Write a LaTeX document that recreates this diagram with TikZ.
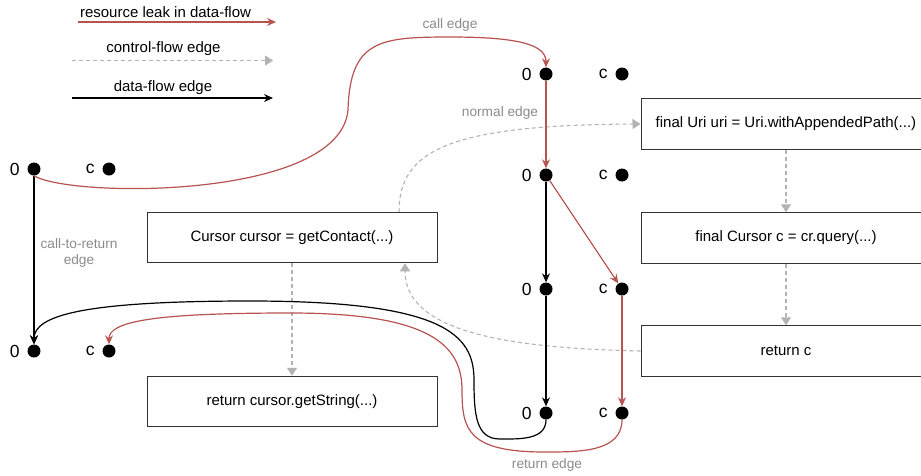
\documentclass[tikz,border=0pt]{standalone}
\usepackage{fontspec}
\setmainfont{Liberation Sans}
\usetikzlibrary{arrows.meta}
\definecolor{leakred}{HTML}{B85450}
\definecolor{cfgray}{HTML}{B3B3B3}
\definecolor{lblgray}{HTML}{8C8C8C}
\definecolor{boxline}{HTML}{333333}
\tikzset{
  dot/.style={circle,fill=black,inner sep=0pt,minimum size=13pt},
  dotlab/.style={font=\fontsize{17.5}{20}\selectfont,inner sep=0pt,label distance=7.5pt},
  stmt/.style={draw=boxline,line width=1pt,minimum width=290pt,minimum height=50.5pt,inner sep=0pt,font=\fontsize{15}{18}\selectfont},
  glabel/.style={text=lblgray,font=\fontsize{13.7}{16}\selectfont,inner sep=0pt,align=center},
  legtext/.style={font=\fontsize{15}{18}\selectfont,inner sep=0pt},
  leak/.style={draw=leakred,line width=1.2pt,-{Stealth[length=9pt,width=8pt,inset=3pt]}},
  dflow/.style={draw=black,line width=1.2pt,-{Stealth[length=9pt,width=8pt,inset=3pt]}},
  cflow/.style={draw=cfgray,line width=1.1pt,dash pattern=on 4pt off 3pt,-{Triangle[length=8pt,width=10pt]}}
}
\begin{document}
\begin{tikzpicture}[x=1pt,y=-1pt]
\clip (0,0) rectangle (921,475);
\fill[white] (0,0) rectangle (921,475);
% legend
\coordinate (lr1) at (78,22); \coordinate (lr2) at (276,22);
\coordinate (lg1) at (72,60.5); \coordinate (lg2) at (273,60.5);
\coordinate (lb1) at (72,98); \coordinate (lb2) at (273,98);
\node[legtext] (tleak) at (165.5,12) {resource leak in data-flow};
\node[legtext] (tcf) at (163.5,49) {control-flow edge};
\node[legtext] (tdf) at (163,88) {data-flow edge};
\draw[leak] (lr1) -- (lr2);
\draw[cflow] (lg1) -- (lg2);
\draw[dflow] (lb1) -- (lb2);
% dots
\node[dot,label={[dotlab]left:0}] (L0) at (34,169) {};
\node[dot,label={[dotlab]left:c}] (Lc) at (109,169) {};
\node[dot,label={[dotlab]left:0}] (R0) at (34,351) {};
\node[dot,label={[dotlab]left:c}] (Rc) at (109,351) {};
\node[dot,label={[dotlab]left:0}] (M00) at (546,74) {};
\node[dot,label={[dotlab]left:c}] (M0c) at (622,74) {};
\node[dot,label={[dotlab]left:0}] (M10) at (546,175) {};
\node[dot,label={[dotlab]left:c}] (M1c) at (622,175) {};
\node[dot,label={[dotlab]left:0}] (M20) at (546,289) {};
\node[dot,label={[dotlab]left:c}] (M2c) at (622,289) {};
\node[dot,label={[dotlab]left:0}] (M30) at (546,413) {};
\node[dot,label={[dotlab]left:c}] (M3c) at (622,413) {};
% statements
\node[stmt] (cursor) at (292,237.5) {Cursor cursor = getContact(...)};
\node[stmt] (getstr) at (292,401.5) {return cursor.getString(...)};
\node[stmt] (uri) at (786,124) {final Uri uri = Uri.withAppendedPath(...)};
\node[stmt] (query) at (786,238) {final Cursor c = cr.query(...)};
\node[stmt] (retc) at (786,351) {return c};
% control flow
\draw[cflow] (cursor.south) -- (getstr.north);
\draw[cflow] (uri.south) -- (query.north);
\draw[cflow] (query.south) -- (retc.north);
\draw[cflow] ([xshift=107pt]cursor.north) .. controls (399,150) and (450,125) .. (uri.west);
\draw[cflow] (retc.west) .. controls (500,348) and (405,330) .. ([xshift=113pt]cursor.south);
% data flow
\draw[dflow] (L0.south) -- (R0.north);
\draw[dflow] (M10) -- (M20);
\draw[dflow] (M20) -- (M30);
\draw[dflow] (M30.south) .. controls (546,440) and (520,439) .. (500,439)
  .. controls (476,439) and (474,415) .. (474,380)
  .. controls (474,335) and (445,301) .. (250,301)
  .. controls (80,301) and (34,316) .. (R0.north);
% leaks
\draw[leak] (L0.south) .. controls (70,198) and (340,200) .. (348,110)
  .. controls (350,40) and (380,37) .. (450,37)
  .. controls (520,37) and (546,45) .. (M00.north);
\draw[leak] (M00) -- (M10);
\draw[leak] (M10) -- (M2c);
\draw[leak] (M2c) -- (M3c);
\draw[leak] (M3c.south) .. controls (622,452) and (580,452) .. (545,452)
  .. controls (468,452) and (462,430) .. (462,390)
  .. controls (462,345) and (430,313) .. (290,313)
  .. controls (150,313) and (109,322) .. (Rc.north);
% labels
\node[glabel] (lcall) at (450,25) {call edge};
\node[glabel] (lnorm) at (500,112.5) {normal edge};
\node[glabel] (lc2r) at (79,252.5) {call-to-return\\edge};
\node[glabel] (lret) at (547,465) {return edge};
\end{tikzpicture}
\end{document}
